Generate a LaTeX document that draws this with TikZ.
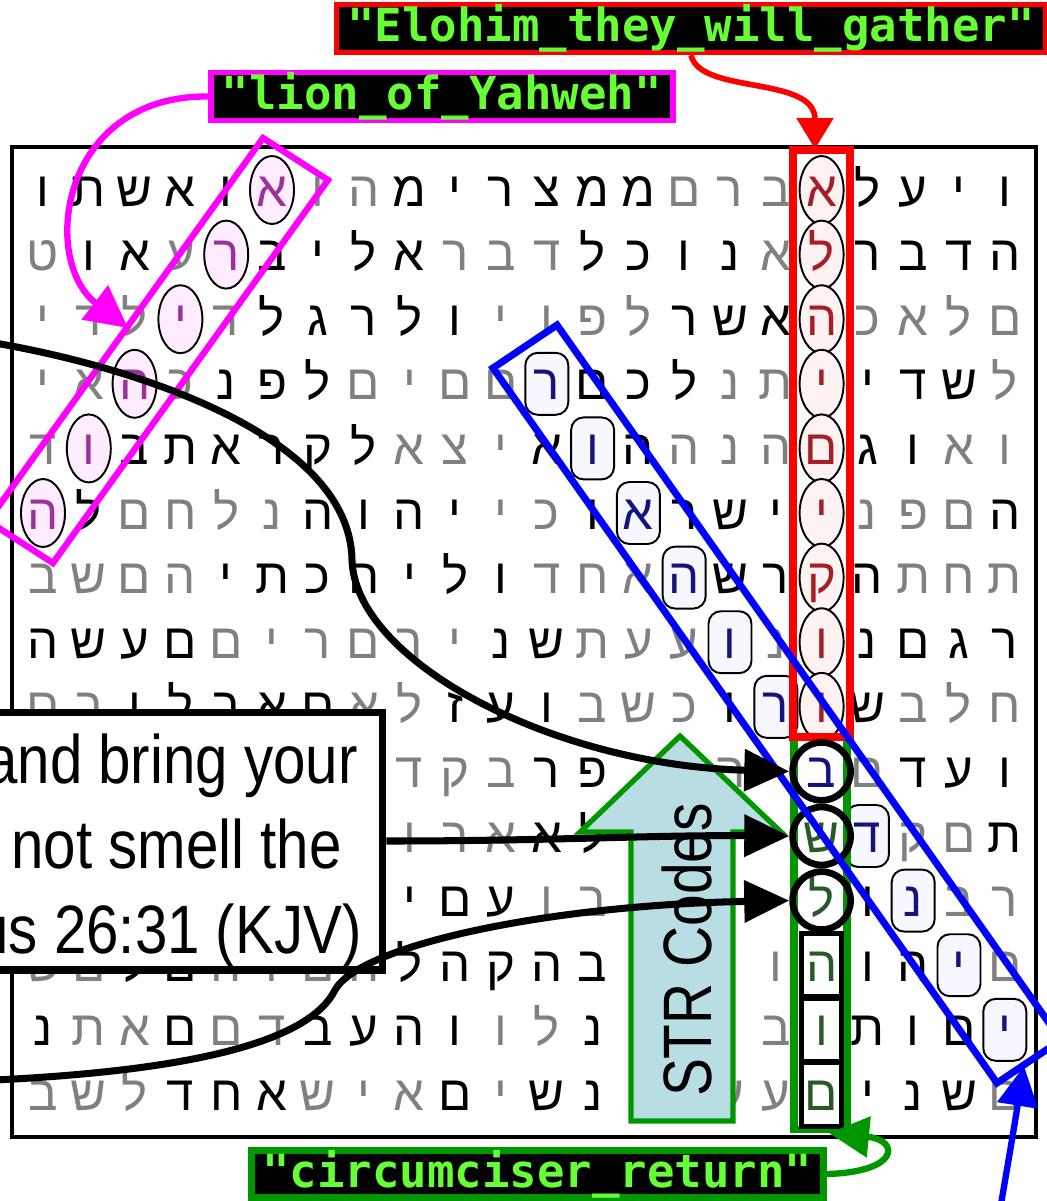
\documentclass[tikz,border=0pt]{standalone}
\usepackage{fontspec}
\usepackage{tikz}
\usetikzlibrary{arrows.meta,shapes.geometric,backgrounds}
\setmainfont{Liberation Sans}
\newfontfamily\hebfont[Script=Hebrew]{Liberation Sans}
\newfontfamily\codefont{DejaVu Sans Mono}
\definecolor{CodeGreen}{RGB}{102,255,51}
\definecolor{StrGreen}{RGB}{0,150,0}
\definecolor{StrFill}{RGB}{184,222,227}
\definecolor{LionMagenta}{RGB}{255,0,255}
\definecolor{GatherRed}{RGB}{255,0,0}
\definecolor{DiagBlue}{RGB}{0,0,255}
% letter inks
\definecolor{tk}{RGB}{0,0,0}
\definecolor{tg}{RGB}{128,128,128}
\definecolor{tm}{RGB}{155,50,155}
\definecolor{tr}{RGB}{165,30,40}
\definecolor{tb}{RGB}{20,20,125}
\definecolor{tv}{RGB}{40,90,40}

\begin{document}
\begin{tikzpicture}[x=0.02cm, y=-0.02cm,
    letter/.style={font=\hebfont\fontsize{28}{28}\selectfont, inner sep=0pt, anchor=base},
    tone/.style={text=t#1},
    ring/.style={ellipse, draw, line width=1.1pt, inner sep=0pt, minimum width=0.88cm, minimum height=1.36cm},
    diagring/.style={rectangle, draw, rounded corners=0.25cm, line width=1.1pt, inner sep=0pt, minimum width=0.86cm, minimum height=1.24cm, fill=DiagBlue!3},
    strring/.style={circle, draw, line width=3.8pt, inner sep=0pt, minimum size=1.16cm},
    strbox/.style={rectangle, draw, line width=2.8pt, inner sep=0pt, minimum width=0.8cm, minimum height=1.27cm},
    codebox/.style={draw, fill=black, text=CodeGreen, line width=3pt, inner xsep=0.22cm, inner ysep=0pt, minimum height=0.94cm, font=\codefont\bfseries\fontsize{26}{26}\selectfont},
    quoteline/.style={anchor=base east, inner sep=0pt, font=\fontsize{39}{39}\selectfont},
    blackarrow/.style={line width=4pt, -{Triangle[length=0.9cm,width=0.82cm]}}]

    \useasboundingbox (0,0) rectangle (1046,1201);

    % letter grid
    \draw[line width=2pt] (12,147) rectangle (1036,1137);
    \foreach \rowtext [count=\rr] in {%
        {ו/k,ת/k,ש/k,א/k,ו/k,א/m,ו/g,ה/g,מ/k,י/k,ר/k,צ/k,מ/k,מ/k,ם/g,ר/g,ב/g,א/r,ל/k,ע/k,י/k,ו/k},%
        {ט/g,ו/k,א/k,ע/g,ר/m,ב/k,י/k,ל/k,א/k,ר/g,ב/g,ד/g,ל/k,כ/k,ו/k,נ/k,א/g,ל/r,ר/k,ב/k,ד/k,ה/k},%
        {י/g,ד/g,ל/g,י/m,ד/g,ל/k,ג/k,ר/k,ל/k,ו/k,י/g,ו/g,פ/g,ל/g,ר/k,ש/k,א/k,ה/r,כ/g,א/g,ל/g,ם/g},%
        {י/g,א/g,ה/m,כ/g,נ/k,פ/k,ל/k,ם/g,י/g,ם/g,ם/g,ר/b,ם/k,כ/k,ל/k,נ/g,ת/g,י/r,י/k,ד/k,ש/k,ל/g},%
        {ד/g,ו/m,ב/k,ת/k,א/k,ר/k,ק/k,ל/k,א/g,צ/g,י/g,א/k,ו/b,ה/k,ה/g,נ/g,ה/g,ם/r,ג/k,ו/k,א/g,ו/g},%
        {ה/m,ל/k,ם/g,ח/g,ל/g,נ/g,ה/k,ו/k,ה/k,י/k,י/g,כ/g,ו/k,א/b,ר/k,ש/k,י/k,י/r,נ/g,פ/g,ם/g,ה/k},%
        {ב/g,ש/g,ם/g,ה/g,י/k,ת/k,כ/k,ה/k,י/k,ל/k,ו/k,ד/g,ח/g,א/g,ה/b,ש/k,ר/k,ק/r,ה/k,ת/g,ח/g,ת/g},%
        {ה/k,ש/k,ע/k,ם/k,ם/g,י/g,ר/g,ם/g,ר/g,י/g,נ/k,ש/k,ת/g,ע/g,ע/g,ו/b,נ/g,ו/r,נ/k,ם/k,ג/k,ר/k},%
        {ם/g,ב/g,ו/k,ל/k,ב/k,א/k,ם/k,א/g,ל/g,ז/k,ע/k,ו/k,ב/g,ש/g,כ/g,ו/k,ר/b,ו/r,ש/k,ב/g,ל/g,ח/g},%
        {-/n,-/n,-/n,-/n,-/n,-/n,-/n,-/n,ד/g,ק/g,ב/g,ר/k,פ/k,-/n,-/n,ה/g,-/n,ב/b,ם/g,ד/k,ע/k,ו/k},%
        {-/n,-/n,-/n,-/n,-/n,-/n,-/n,-/n,ו/g,ר/g,א/g,א/k,ל/k,-/n,-/n,-/n,-/n,ש/v,ד/b,ק/g,ם/g,ת/k},%
        {-/n,-/n,-/n,-/n,-/n,-/n,-/n,-/n,י/k,ם/k,ע/k,ו/g,ב/g,-/n,-/n,-/n,-/n,ל/v,ו/k,נ/b,ב/g,ר/g},%
        {ש/g,ם/g,ל/k,ם/k,ה/g,ו/g,ם/g,ה/g,ל/k,ה/k,ק/k,ה/k,ב/k,-/n,-/n,-/n,ו/g,ה/v,ו/k,ה/k,י/b,ם/g},%
        {נ/k,ת/g,א/g,ם/k,ם/g,ד/g,ב/k,ע/k,ה/k,ו/k,ו/g,ל/g,נ/k,-/n,-/n,-/n,ב/g,ו/v,ת/k,ו/k,ם/k,י/b},%
        {ב/g,ש/g,ל/g,ד/k,ח/k,א/k,ש/g,י/g,א/g,ם/k,י/g,ש/k,נ/k,-/n,-/n,ע/g,ע/g,ם/v,י/k,נ/k,ש/k,ם/g}}{%
        \foreach \ch/\tn [count=\cc from 0] in \rowtext {
            \coordinate (C-\rr-\cc) at ({43+45.8*\cc},{190+64.6*(\rr-1)});
            \if n\tn\else
                \node[letter, tone=\tn] (L-\rr-\cc) at ({43+45.8*\cc},{206+64.6*(\rr-1)}) {\ch};
            \fi
        }
    }

    % rings behind the letters
    \begin{scope}[on background layer]
        \fill[white] (0,0) rectangle (1046,1201);
        \foreach \rr/\cc [count=\nn] in {1/5,2/4,3/3,4/2,5/1,6/0}
            \node[ring, fill=LionMagenta!7] (lring-\nn) at (C-\rr-\cc) {};
        \foreach \rr in {1,...,9}
            \node[ring, fill=GatherRed!5] (gring-\rr) at (C-\rr-17) {};
        \foreach \rr/\cc in {4/11,5/12,6/13,7/14,8/15,9/16,11/18,12/19,13/20,14/21}
            \node[diagring] (dring-\rr) at (C-\rr-\cc) {};
    \end{scope}

    % frames round the hidden words
    \draw[LionMagenta, line width=3.6pt] (263,138) -- (328,180) -- (53,563) -- (-12,521) -- cycle;
    \draw[StrGreen, line width=4pt] (794,737) rectangle (847,1129);
    \draw[GatherRed, line width=4pt] (793,150) rectangle (850,737);
    \foreach \rr in {10,11,12}
        \node[strring] (sring-\rr) at (C-\rr-17) {};
    \foreach \rr in {13,14,15}
        \node[strbox] (sbox-\rr) at (C-\rr-17) {};

    % STR arrow
    \draw[StrGreen, line width=3pt, fill=StrFill] (680,736) -- (781,832) -- (733,832) -- (733,1121)
        -- (631,1121) -- (631,832) -- (580,832) -- cycle;
    \node[rotate=90, anchor=base, inner sep=0pt, font=\fontsize{39}{39}\selectfont] (strlabel) at (711,950) {\scalebox{0.83}[1]{STR Codes}};

    \draw[DiagBlue, line width=4pt] (493,368) -- (557,325) -- (1061,1040) -- (997,1083) -- cycle;

    % verse box
    \node[draw, line width=4pt, fill=white, inner sep=0pt, minimum width=8.06cm, minimum height=5.16cm] (quote) at (181.5,841) {};
    \node[quoteline] (quote-a) at (358,783) {\scalebox{0.85}[1]{and bring your}};
    \node[quoteline] (quote-b) at (342,868) {\scalebox{0.85}[1]{not smell the}};
    \node[quoteline] (quote-c) at (362,953) {\scalebox{0.85}[1]{us 26:31 (KJV)}};

    \coordinate (feedA) at (-5,343);
    \coordinate (feedC) at (-5,1080);
    \draw[blackarrow] (feedA) .. controls (150,370) and (350,440) .. (352,560)
        .. controls (355,660) and (550,765) .. (sring-10.west);
    \draw[blackarrow] (quote.east) .. controls (550,841) and (650,835) .. (sring-11.west);
    \draw[blackarrow] (feedC) .. controls (200,1070) and (310,1040) .. (335,990)
        .. controls (360,945) and (550,905) .. (sring-12.west);

    % labels
    \node[codebox, draw=GatherRed] (gatherlabel) at (691,28.5) {"Elohim\_they\_will\_gather"};
    \node[codebox, draw=LionMagenta] (lionlabel) at (442,96.5) {"lion\_of\_Yahweh"};
    \node[codebox, draw=StrGreen, line width=4pt] (circlabel) at (537.5,1174) {"circumciser\_return"};

    \coordinate (gathertip) at (815,149);
    \coordinate (liontip) at (128,328);
    \coordinate (circtip) at (829,1133);
    \coordinate (diagfoot) at (1000,1210);
    \coordinate (diagtip) at (1024,1066);
    \draw[GatherRed, line width=3.2pt, -{Triangle[length=0.62cm,width=0.72cm]}] (gatherlabel.south)
        .. controls (700,95) and (815,75) .. (gathertip);
    \draw[LionMagenta, line width=3.6pt, -{Triangle[length=0.84cm,width=0.84cm]}] (lionlabel.west)
        .. controls (60,95) and (40,260) .. (liontip);
    \draw[StrGreen, line width=3.6pt, -{Triangle[length=0.8cm,width=0.8cm]}] (circlabel.east)
        .. controls (900,1172) and (900,1140) .. (circtip);
    \draw[DiagBlue, line width=3.6pt, -{Triangle[length=0.8cm,width=0.8cm]}] (diagfoot)
        .. controls (1012,1140) .. (diagtip);
\end{tikzpicture}
\end{document}
